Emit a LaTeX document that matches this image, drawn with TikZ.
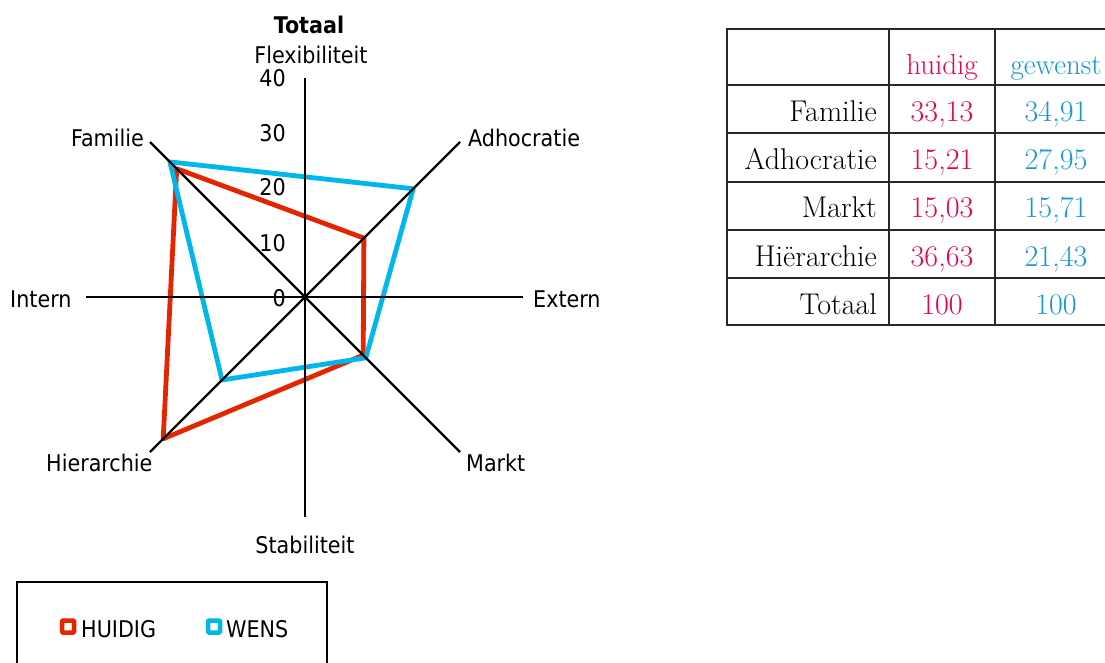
\documentclass[tikz,border=0pt]{standalone}
\usepackage{fontspec}
\newfontfamily\chartfont{DejaVu Sans Condensed}
\usetikzlibrary{calc}
\definecolor{sred}{RGB}{227,38,0}
\definecolor{sblue}{RGB}{0,183,235}
\definecolor{tred}{RGB}{232,0,82}
\definecolor{tblue}{RGB}{20,150,215}
\definecolor{tline}{RGB}{40,40,40}
\begin{document}
\begin{tikzpicture}[x=1pt,y=-1pt,
  lbl/.style={font=\chartfont\fontsize{23}{26}\selectfont, inner sep=0pt},
  ttl/.style={font=\chartfont\bfseries\fontsize{23}{26}\selectfont, inner sep=0pt},
  axis/.style={line width=2.4pt, black},
  series/.style={line width=4.8pt, line join=round},
  tab/.style={line width=2.6pt, tline},
  cell/.style={font=\fontsize{30}{33}\selectfont, inner sep=0pt},
  hcell/.style={font=\fontsize{29}{32}\selectfont, inner sep=0pt},
  mark box/.style={line width=4.5pt, rounded corners=1pt, fill=white}]
\useasboundingbox (0,0) rectangle (1105,663);
% axis coordinates
\coordinate (C) at (305,297);
\coordinate (N) at (305,78);
\coordinate (S) at (305,517);
\coordinate (W) at (86,297);
\coordinate (E) at (523,297);
\coordinate (NW) at (150,142);
\coordinate (NE) at (460,142);
\coordinate (SW) at (150,452);
\coordinate (SE) at (460,452);
% data points
\coordinate (r1) at (176.7,168.7);
\coordinate (r2) at (363.9,238.1);
\coordinate (r3) at (363.2,355.2);
\coordinate (r4) at (163.2,438.8);
\coordinate (b1) at (169.9,161.9);
\coordinate (b2) at (413.2,188.8);
\coordinate (b3) at (365.8,357.8);
\coordinate (b4) at (222.0,380.0);
% series
\draw[series, draw=sred] (r1) -- (r2) -- (r3) -- (r4) -- cycle;
\draw[series, draw=sblue] (b1) -- (b2) -- (b3) -- (b4) -- cycle;
% axes
\draw[axis] (N) -- (S);
\draw[axis] (W) -- (E);
\draw[axis] (NW) -- (SE);
\draw[axis] (NE) -- (SW);
% tick labels
\node[lbl, anchor=base east] (t40) at (286,87) {40};
\node[lbl, anchor=base east] (t30) at (286,141.5) {30};
\node[lbl, anchor=base east] (t20) at (286,196) {20};
\node[lbl, anchor=base east] (t10) at (286,251) {10};
\node[lbl, anchor=base east] (t0) at (286,306) {0};
% titles and category labels
\node[ttl, anchor=base] (title) at (309,34) {Totaal};
\node[lbl, anchor=base] (flex) at (311,64) {Flexibiliteit};
\node[lbl, anchor=base east] (fam) at (144,147) {Familie};
\node[lbl, anchor=base west] (adh) at (468,147) {Adhocratie};
\node[lbl, anchor=base west] (intern) at (10,307) {Intern};
\node[lbl, anchor=base west] (extern) at (533,307) {Extern};
\node[lbl, anchor=base west] (hier) at (46,471) {Hierarchie};
\node[lbl, anchor=base west] (markt) at (466,471) {Markt};
\node[lbl, anchor=base] (stab) at (305,553) {Stabiliteit};
% legend
\draw[line width=2pt] (17,670) -- (17,582) -- (327,582) -- (327,670);
\draw[mark box, draw=sred] (62,620.5) rectangle (74,632.5);
\node[lbl, anchor=base west] (lh) at (81,637) {HUIDIG};
\draw[mark box, draw=sblue] (208,620.5) rectangle (220,632.5);
\node[lbl, anchor=base west] (lw) at (226,637) {WENS};
% table
\foreach \y in {29,85,133,182,230,278,325}
  \draw[tab] (726,\y) -- (1120,\y);
\foreach \x in {727,889,995,1118}
  \draw[tab] (\x,29) -- (\x,325);
\node[hcell, anchor=base, tred] (h1) at (942,75) {huidig};
\node[hcell, anchor=base, tblue] (h2) at (1056,75) {gewenst};
\node[cell, anchor=base east] (c1) at (877,122) {Familie};
\node[cell, anchor=base, tred] (c12) at (942,122) {33,13};
\node[cell, anchor=base, tblue] (c13) at (1056,122) {34,91};
\node[cell, anchor=base east] (c2) at (877,170) {Adhocratie};
\node[cell, anchor=base, tred] (c22) at (942,170) {15,21};
\node[cell, anchor=base, tblue] (c23) at (1056,170) {27,95};
\node[cell, anchor=base east] (c3) at (877,218) {Markt};
\node[cell, anchor=base, tred] (c32) at (942,218) {15,03};
\node[cell, anchor=base, tblue] (c33) at (1056,218) {15,71};
\node[cell, anchor=base east] (c4) at (877,266) {Hiërarchie};
\node[cell, anchor=base, tred] (c42) at (942,266) {36,63};
\node[cell, anchor=base, tblue] (c43) at (1056,266) {21,43};
\node[cell, anchor=base east] (c5) at (877,314) {Totaal};
\node[cell, anchor=base, tred] (c52) at (942,314) {100};
\node[cell, anchor=base, tblue] (c53) at (1056,314) {100};
\end{tikzpicture}
\end{document}
